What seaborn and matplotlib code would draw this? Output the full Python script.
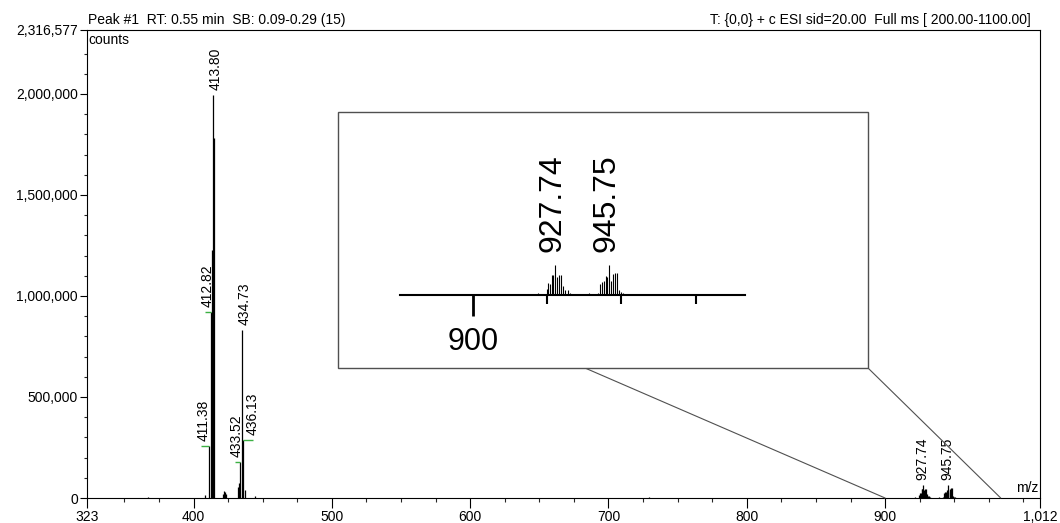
import numpy as np
import pandas as pd
import matplotlib
matplotlib.use("Agg")
import matplotlib.pyplot as plt
import seaborn as sns
from matplotlib.patches import Rectangle, ConnectionPatch

# ---------------- data ----------------
base_mz = [367.0, 408.0, 411.38, 412.82, 413.35, 413.80, 414.30, 414.81,
           421.0, 421.8, 422.6, 423.5, 432.3, 432.8, 433.52, 434.73,
           436.13, 437.2, 444.5, 729.5]
base_int = [6e3, 15e3, 258e3, 920e3, 1230e3, 1995e3, 1200e3, 1780e3,
            22e3, 35e3, 28e3, 18e3, 55e3, 75e3, 178e3, 832e3,
            285e3, 40e3, 8e3, 7e3]

iso_mz = [921.8, 924.8, 925.3, 925.9, 926.5, 926.9, 927.74, 928.4, 929.1,
          929.7, 930.4, 931.1, 932.0, 932.8,
          939.2, 942.2, 942.8, 943.4, 944.1, 944.8, 945.2, 945.75, 946.6,
          947.2, 947.9, 948.6, 949.3, 949.9, 950.6]
iso_int = [4e3, 13e3, 26e3, 24e3, 43e3, 43e3, 65e3, 39e3, 43e3,
           43e3, 20e3, 11e3, 11e3, 4e3,
           4e3, 4e3, 24e3, 28e3, 30e3, 41e3, 40e3, 65e3, 30e3,
           46e3, 48e3, 48e3, 11e3, 6.5e3, 4e3]

label_mz = [411.38, 412.82, 413.80, 433.52, 434.73, 436.13, 927.74, 945.75]
label_green = [True, True, False, True, False, True, False, False]
inset_label_mz = [927.74, 945.75]

x_major = [323, 400, 500, 600, 700, 800, 900, 1012]
x_labels = ["323", "400", "500", "600", "700", "800", "900", "1,012"]
x_minor = [350, 375, 425, 450, 475, 525, 550, 575, 625, 650, 675, 725, 750,
           775, 825, 850, 875, 925, 950, 975, 1000]
y_major = [0, 500000, 1000000, 1500000, 2000000, 2316577]
y_labels = ["0", "500,000", "1,000,000", "1,500,000", "2,000,000", "2,316,577"]
y_minor = [v * 100000 for v in range(1, 23) if v % 5 != 0]

inset_major = [900]
inset_minor = [925, 950, 975]

header_left = "Peak #1  RT: 0.55 min  SB: 0.09-0.29 (15)"
header_right = "T: {0,0} + c ESI sid=20.00  Full ms [ 200.00-1100.00]"

spec = pd.DataFrame({"mz": base_mz + iso_mz, "intensity": base_int + iso_int})
iso = pd.DataFrame({"mz": iso_mz, "intensity": iso_int})

# ---------------- style ----------------
sns.set_theme(style="ticks")
plt.rcParams["font.family"] = ["Liberation Sans", "DejaVu Sans"]
plt.rcParams["axes.linewidth"] = 0.8

W, H = 1060, 523
fig = plt.figure(figsize=(W / 100, H / 100), dpi=100)
fig.patch.set_facecolor("white")

# layout (pixels)
L, R, T, B = 87, 1040, 30, 498
ax = fig.add_axes([L / W, (H - B) / H, (R - L) / W, (B - T) / H])
ax.set_facecolor("white")

ax.vlines(spec["mz"], 0, spec["intensity"], color="black", lw=0.9)
ax.set_xlim(323, 1012)
ax.set_ylim(0, 2316577)

ax.set_xticks(x_major)
ax.set_xticklabels(x_labels)
ax.set_xticks(x_minor, minor=True)
ax.set_yticks(y_major)
ax.set_yticklabels(y_labels)
ax.set_yticks(y_minor, minor=True)
ax.tick_params(axis="x", which="major", direction="out", length=7, width=0.8,
               pad=1.5, labelsize=10, colors="black")
ax.tick_params(axis="x", which="minor", direction="out", length=3, width=0.8)
ax.tick_params(axis="y", which="major", direction="out", length=5, width=0.8,
               pad=1.5, labelsize=10, colors="black")
ax.tick_params(axis="y", which="minor", direction="out", length=2, width=0.8)
for s in ax.spines.values():
    s.set_color("black")
    s.set_linewidth(0.8)

px2pt = 72 / 100.0
ax.annotate(header_left, xy=(0, 1), xycoords="axes fraction",
            xytext=(1, 2), textcoords="offset points", ha="left", va="bottom",
            fontsize=10, color="black")
ax.annotate(header_right, xy=(1, 1), xycoords="axes fraction",
            xytext=(-7, 2), textcoords="offset points", ha="right", va="bottom",
            fontsize=10, color="black")
ax.annotate("counts", xy=(0, 1), xycoords="axes fraction",
            xytext=(1, -2), textcoords="offset points", ha="left", va="top",
            fontsize=10, color="black")
ax.annotate("m/z", xy=(1, 0), xycoords="axes fraction",
            xytext=(-1, 2), textcoords="offset points", ha="right", va="bottom",
            fontsize=10, color="black")

# peak labels
label_dx_px = [-6, -4, 3, -3, 3, 9, -1, -1]
x_px_per_unit = (R - L) / (1012 - 323)
lookup = dict(zip(spec["mz"], spec["intensity"]))
for mz, dx, g in zip(label_mz, label_dx_px, label_green):
    h = lookup[mz]
    ax.annotate(f"{mz:.2f}", xy=(mz, h), xytext=(dx * px2pt, 5 * px2pt),
                textcoords="offset points", rotation=90, ha="center",
                va="bottom", fontsize=10, color="black")
    if g:
        end = mz + (dx + (1 if dx > 0 else -2)) / x_px_per_unit
        ax.plot([mz, end], [h, h], color="#3cb043", lw=1.0,
                solid_capstyle="butt")

# inset box and connectors
bx0, by0, bx1, by1 = 338, 112, 868, 368
box = Rectangle((bx0 / W, (H - by1) / H), (bx1 - bx0) / W, (by1 - by0) / H,
                transform=fig.transFigure, facecolor="white",
                edgecolor="#505050", lw=1.0, zorder=3)
fig.patches.append(box)
for (fx, fy), mzx in [((585, 368), 900.0), ((868, 368), 983.6)]:
    con = ConnectionPatch(xyA=(fx / W, (H - fy) / H), coordsA=fig.transFigure,
                          xyB=(mzx, 0), coordsB=ax.transData,
                          color="#505050", lw=0.8, zorder=3)
    fig.add_artist(con)

# inset axes
iL, iR, iB, iT = 400, 745, 295, 150
axi = fig.add_axes([iL / W, (H - iB) / H, (iR - iL) / W, (iB - iT) / H],
                   zorder=5)
axi.patch.set_alpha(0)
axi.vlines(iso["mz"], 0, iso["intensity"], color="black", lw=0.8)
axi.set_xlim(875.4, 991.6)
axi.set_ylim(0, 65e3 * (iB - iT) / 30)
axi.set_xticks(inset_major)
axi.set_xticklabels(["900"])
axi.set_xticks(inset_minor, minor=True)
axi.set_yticks([])
for k in ["left", "top", "right"]:
    axi.spines[k].set_visible(False)
axi.spines["bottom"].set_color("black")
axi.spines["bottom"].set_linewidth(1.5)
axi.tick_params(axis="x", which="major", direction="out", length=15, width=2,
                pad=8, labelsize=22, colors="black")
axi.tick_params(axis="x", which="minor", direction="out", length=6.5,
                width=1.5, colors="black")
ilookup = dict(zip(iso["mz"], iso["intensity"]))
for mz, dx in zip(inset_label_mz, [-3, -2]):
    axi.annotate(f"{mz:.2f}", xy=(mz, ilookup[mz]),
                 xytext=(dx * px2pt, 13 * px2pt), textcoords="offset points",
                 rotation=90, ha="center", va="bottom", fontsize=23,
                 color="black")

fig.savefig("out.png", dpi=100, facecolor="white")
